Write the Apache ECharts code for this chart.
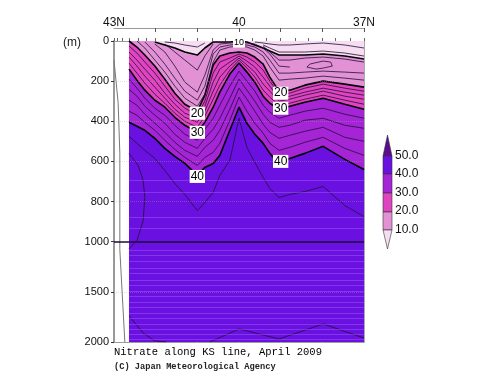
<!DOCTYPE html>
<html><head><meta charset="utf-8">
<style>html,body{margin:0;padding:0;background:#fff}#c{width:500px;height:387px}</style>
<script src="https://cdn.jsdelivr.net/npm/echarts@6/dist/echarts.min.js"></script>
</head><body><div id="c"></div>
<script>
// Latitude columns at which the isolines were read
const lats = [42.64,42.45,42.26,42.02,41.78,41.54,41.30,41.0,40.82,40.62,40.46,40.22,40.0,39.81,39.62,39.42,39.26,39.04,38.78,38.42,37.98,37.46,37.0];
const _ = null;
// Depth (m) of each nitrate isoline at those latitudes
const c6  = [_,_,_,_,5,10,20,30,10,_,_,_,_,_,5,10,15,20,20,15,10,20,35];
const c8  = [_,_,_,_,_,_,_,_,_,_,_,_,_,_,_,20,35,55,55,55,50,60,75];
const c10 = [_,_,_,5,20,35,55,70,35,5,5,5,0,5,20,35,50,70,70,70,65,75,90];
const c12a= [_,_,_,_,15,55,95,145,75,15,_,_,_,_,_,_,_,_,_,_,_,_,_];
const c12b= [_,_,_,_,_,_,_,_,_,_,_,_,_,_,_,25,55,95,95,85,80,90,105];
const c14 = [_,_,_,15,55,125,205,255,170,45,15,10,5,10,15,35,65,125,130,_,_,_,_];
const c16 = [_,_,5,55,115,185,250,295,225,65,30,20,15,20,30,55,95,160,160,155,150,155,160];
const c18 = [_,0,35,95,155,225,285,325,265,105,45,30,25,30,45,75,130,195,190,185,175,185,195];
const c20 = [0,30,70,125,190,260,315,350,270,120,75,60,55,60,80,115,180,250,245,220,200,215,230];
const c22 = [25,60,105,160,225,290,335,370,300,160,105,85,65,80,105,145,200,265,260,235,215,235,250];
const c24 = [55,95,140,195,260,315,360,385,325,205,140,105,75,100,130,180,225,285,275,255,235,255,270];
const c26 = [80,125,175,230,285,340,380,405,350,250,180,125,85,120,155,215,250,300,290,270,250,275,290];
const c28 = [110,160,210,265,310,360,400,430,375,290,220,145,95,135,180,245,280,320,310,290,270,295,315];
const c30 = [140,195,245,295,330,380,420,455,405,330,255,165,110,155,205,275,310,340,325,305,285,315,340];
const c32 = [190,235,285,335,370,420,465,495,440,385,320,225,150,200,250,320,355,385,370,350,335,365,385];
const c34 = [240,275,325,370,410,465,505,535,485,440,385,285,190,245,300,365,405,430,420,395,385,420,435];
const c36 = [295,320,365,410,455,505,545,575,530,495,445,340,235,290,350,415,455,485,470,450,430,480,500];
const c38 = [350,370,405,445,495,540,580,620,580,555,510,395,280,350,410,460,510,545,530,505,480,535,570];
const c40 = [405,425,445,485,535,575,610,670,630,610,570,445,330,410,465,510,560,610,585,560,525,590,640];
const c42 = [475,510,545,585,645,710,765,845,805,755,670,595,385,530,605,680,735,780,765,750,725,820,875];
// Isolines that are not single valued or run apart from the columns: [lat, depth]
const lens14 = [[38.37,130],[38.15,140],[37.98,135],[37.76,125],[37.80,105],[37.98,100],[38.30,115],[38.37,130]];
const arc44  = [[42.64,560],[42.42,620],[42.30,695],[42.26,780],[42.30,895],[42.45,995],[42.64,1070]];
const deep46a= [[42.64,1740],[42.30,1910],[42.02,1990],[41.75,2000]];
const deep46b= [[40.70,2000],[40.0,1870],[39.04,1970],[37.98,1820],[37.0,1960]];
const edgeLine=[[43.0,95],[42.9,310],[42.86,560],[42.86,1080],[42.74,2000]];
// Station marks and axis ticks
const stationLats = [42,41,40,39,38];
const stationDepths = [200,400,600,800,1000,1200,1500,2000];
const topMajor = [42,41,40,39,38,37];
const topMinor = [43,42.93,42.8,42.64,42.42,42.23,42,41.66,41.33,41,40.64,40.33,40,39.69,39.35,39,38.64,38.33,38,37.69,37.33,37];
const topLabels = {43:'43N',40:'40',37:'37N'};
const depthTicks = [0,200,400,600,800,1000,1500,2000];
const stripes = [695,755,880,935,1090,1140,1200,1260,1310,1380,1430,1490,1540,1600,1650,1710,1760,1820,1870,1920,1970];
const contourLabels = [[41,360,'20',12],[41,455,'30',12],[41,675,'40',12],[39,260,'20',12],[39,335,'30',12],[39,600,'40',12],[40,8,'10',9]];
const legendTicks = ['50.0','40.0','30.0','20.0','10.0'];
const colors = {over:'#5c0c8e',b45:'#6a10e0',b35:'#a424d6',b25:'#e044c0',b15:'#e292d4',b5:'#f6def0'};

const toAxis = d => d==null ? null : (d<=1000 ? d : 1000+(d-1000)/2);
const fromAxis = v => v<=1000 ? v : 1000+(v-1000)*2;
const col = arr => arr.map((d,i)=>[lats[i],toAxis(d)]);
const pts = arr => arr.map(p=>[p[0],toAxis(p[1])]);
const thin = (data)=>({type:'line',data,symbol:'none',silent:true,animation:false,
  lineStyle:{color:'#24103c',width:0.9,opacity:0.9}});
const band = (data,color)=>({type:'line',data,symbol:'none',silent:true,animation:false,
  lineStyle:{color:'#000',width:1.6},areaStyle:{color,opacity:1,origin:'start'}});
const axisGray='#999';

const series = [
  {type:'line',data:pts([[lats[0],2000],[37,2000]]),symbol:'none',silent:true,animation:false,
   lineStyle:{width:0},areaStyle:{color:colors.b45,opacity:1,origin:'start'},
   markLine:{silent:true,symbol:'none',animation:false,label:{show:false},
     lineStyle:{color:'rgba(170,110,255,0.4)',width:1,type:'solid'},
     data:stripes.map(d=>[{coord:[lats[0],toAxis(d)]},{coord:[37,toAxis(d)]}])}},
  band(col(c40),colors.b35),
  band(col(c30),colors.b25),
  band(col(c20),colors.b15),
  band(col(c10),colors.b5),
  ...[c6,c8,c12a,c12b,c14,c16,c18,c22,c24,c26,c28,c32,c34,c36,c38,c42].map(a=>thin(col(a))),
  ...[lens14,arc44,deep46a,deep46b].map(a=>thin(pts(a))),
  {type:'line',data:pts(edgeLine),symbol:'none',silent:true,animation:false,lineStyle:{color:'#777',width:1}},
  {type:'scatter',silent:true,animation:false,symbolSize:1.6,
   itemStyle:{color:p=>p.value[1]>=1000?'#d8c0ff':'#3a1a60'},
   data:stationLats.flatMap(l=>stationDepths.map(d=>[l,toAxis(d)]))},
  {type:'line',data:[],silent:true,animation:false,
   markLine:{silent:true,symbol:'none',animation:false,label:{show:false},
     data:[
       ...depthTicks.filter(d=>d>0&&d!==1000).map(d=>[
        {coord:[43,toAxis(d)],lineStyle:{color:'rgba(170,170,170,0.35)',width:1,type:'dotted'}},{coord:[37,toAxis(d)]}]),
       [{coord:[43,toAxis(1000)],lineStyle:{color:'#1c0a38',width:1.6,type:'solid'}},{coord:[37,toAxis(1000)]}]
     ]}},
  {type:'scatter',silent:true,animation:false,symbolSize:0,z:10,itemStyle:{opacity:1},
   data:contourLabels.map(c=>({value:[c[0],toAxis(c[1])],label:{formatter:c[2],fontSize:c[3],lineHeight:c[3]}})),
   label:{show:true,position:'inside',color:'#000',opacity:1,fontFamily:'Liberation Sans',
     backgroundColor:'#fff',padding:[1,1,0,1]}}
];

const hiddenLabel={show:false};
const option = {
  animation:false,
  backgroundColor:'#fff',
  grid:{left:114,right:136,top:41,bottom:45,containLabel:false},
  xAxis:[
    {type:'value',min:37,max:43,inverse:true,position:'top',splitLine:{show:false},
     axisLine:{show:true,lineStyle:{color:axisGray,width:1}},
     axisTick:{show:true,inside:false,length:3,lineStyle:{color:'#666',width:1},customValues:topMinor},
     axisLabel:hiddenLabel},
    {type:'value',min:37,max:43,inverse:true,position:'top',offset:13,splitLine:{show:false},
     axisLine:{show:true,onZero:false,lineStyle:{color:axisGray,width:1}},
     axisTick:{show:true,inside:true,length:4,lineStyle:{color:'#555',width:1},customValues:topMajor},
     axisLabel:{show:true,margin:-1,color:'#111',fontSize:12,fontFamily:'Liberation Sans',
       customValues:[43,40,37],formatter:v=>topLabels[v]||''}},
    {type:'value',min:37,max:43,inverse:true,position:'bottom',splitLine:{show:false},
     axisLine:{show:true,onZero:false,lineStyle:{color:axisGray,width:1}},axisTick:{show:false},axisLabel:hiddenLabel}
  ],
  yAxis:[
    {type:'value',min:0,max:1500,inverse:true,position:'left',splitLine:{show:false},
     axisLine:{show:true,onZero:false,lineStyle:{color:'#999',width:2}},
     axisTick:{show:true,length:3,lineStyle:{color:'#333',width:1},customValues:depthTicks.map(toAxis)},
     axisLabel:{show:true,margin:5,color:'#111',fontSize:11,fontFamily:'Liberation Sans',
       customValues:depthTicks.map(toAxis),formatter:v=>String(fromAxis(v))}},
    {type:'value',min:0,max:1500,inverse:true,position:'right',splitLine:{show:false},
     axisLine:{show:true,onZero:false,lineStyle:{color:'#aaa',width:1}},axisTick:{show:false},axisLabel:hiddenLabel}
  ],
  series,
  graphic:[
    {type:'text',left:63,top:37,style:{text:'(m)',font:'12px Liberation Sans',fill:'#222',letterSpacing:2}},
    {type:'text',left:114,top:347,style:{text:'Nitrate along KS line, April 2009',font:'10.5px Liberation Mono',fill:'#000'}},
    {type:'text',left:114,top:362,style:{text:'(C) Japan Meteorological Agency',font:'bold 8.7px Liberation Mono',fill:'#222'}},
    {type:'polygon',shape:{points:[[387.5,135],[392,156],[383,156]]},style:{fill:colors.over,stroke:'#333',lineWidth:0.6}},
    {type:'rect',shape:{x:383,y:156,width:9,height:18},style:{fill:colors.b45,stroke:'#333',lineWidth:0.6}},
    {type:'rect',shape:{x:383,y:174,width:9,height:19},style:{fill:colors.b35,stroke:'#333',lineWidth:0.6}},
    {type:'rect',shape:{x:383,y:193,width:9,height:19},style:{fill:colors.b25,stroke:'#333',lineWidth:0.6}},
    {type:'rect',shape:{x:383,y:212,width:9,height:18},style:{fill:colors.b15,stroke:'#333',lineWidth:0.6}},
    {type:'polygon',shape:{points:[[383,230],[392,230],[387.5,249]]},style:{fill:colors.b5,stroke:'#333',lineWidth:0.6}},
    ...legendTicks.map((t,i)=>({type:'text',left:395,top:[150,168,187,205,224][i],
      style:{text:t,font:'12px Liberation Sans',fill:'#111'}}))
  ]
};
const chart = echarts.init(document.getElementById('c'),null,{renderer:'canvas'});
chart.setOption(option);
</script></body></html>
